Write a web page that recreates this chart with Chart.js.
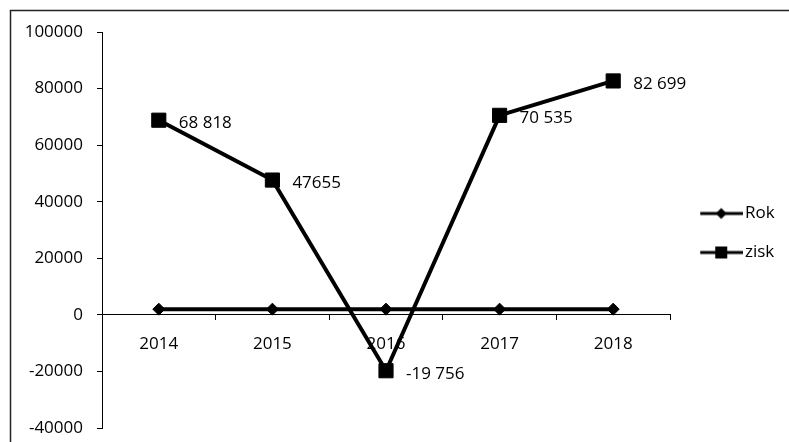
<!DOCTYPE html>
<html>
<head>
<meta charset="utf-8">
<script src="https://cdn.jsdelivr.net/npm/chart.js"></script>
<style>
  html, body { margin: 0; padding: 0; background: #fff; }
  #wrap { width: 789px; height: 442px; }
</style>
</head>
<body>
<div id="wrap"><canvas id="graf" width="789" height="442"></canvas></div>
<script>
// data
const roky = ['2014', '2015', '2016', '2017', '2018'];
const rokValues = [2014, 2015, 2016, 2017, 2018];
const ziskValues = [68818, 47655, -19756, 70535, 82699];
const ziskLabels = ['68 818', '47655', '-19 756', '70 535', '82 699'];
const yTicks = [-40000, -20000, 0, 20000, 40000, 60000, 80000, 100000];

const FONT = { family: '"Open Sans", "Noto Sans", sans-serif', size: 17 };
const INK = '#000';

// little legend sample: a line with the marker in the middle (like Excel)
function makeSample(shape) {
    const c = document.createElement('canvas');
    c.width = 58;
    c.height = 16;
    const g = c.getContext('2d');
    g.fillStyle = INK;
    g.fillRect(15, 6.5, 43, 3);
    if (shape === 'rect') {
        g.fillRect(30, 2, 12, 12);
    } else {
        g.beginPath();
        g.moveTo(36, 2.5);
        g.lineTo(41.5, 8);
        g.lineTo(36, 13.5);
        g.lineTo(30.5, 8);
        g.closePath();
        g.fill();
    }
    return c;
}
const samples = [makeSample('diamond'), makeSample('rect')];

// top + left edge of the scanned frame
const framePlugin = {
    id: 'frame',
    beforeDraw(chart) {
        const ctx = chart.ctx;
        ctx.save();
        ctx.strokeStyle = '#222';
        ctx.lineWidth = 1.5;
        ctx.strokeRect(10.5, 10.5, 900, 600);
        ctx.restore();
    }
};

// fixed width for the legend on the right, nudged a bit lower
const legendWidthPlugin = {
    id: 'legendWidth',
    beforeLayout(chart) {
        const legend = chart.legend;
        if (legend && !legend._patched) {
            const fit = legend.fit;
            legend.fit = function () {
                fit.call(this);
                this.width = 119;
            };
            legend._patched = true;
        }
    },
    afterLayout(chart) {
        if (chart.legend) {
            chart.legend.top += 3;
            chart.legend.bottom += 3;
        }
    }
};

// value labels to the right of the zisk points
const valueLabels = {
    id: 'valueLabels',
    afterDatasetsDraw(chart) {
        const meta = chart.getDatasetMeta(1);
        const ctx = chart.ctx;
        ctx.save();
        ctx.font = FONT.size + 'px ' + FONT.family;
        ctx.fillStyle = INK;
        ctx.textAlign = 'left';
        ctx.textBaseline = 'middle';
        meta.data.forEach((pt, i) => {
            ctx.fillText(ziskLabels[i], pt.x + 20, pt.y + 3);
        });
        ctx.restore();
    }
};

new Chart(document.getElementById('graf'), {
    type: 'line',
    data: {
        labels: roky,
        datasets: [{
            label: 'Rok',
            data: rokValues,
            borderColor: INK,
            backgroundColor: INK,
            borderWidth: 4,
            pointStyle: 'rectRot',
            pointRadius: 6,
            pointBorderWidth: 1,
            tension: 0
        }, {
            label: 'zisk',
            data: ziskValues,
            borderColor: INK,
            backgroundColor: INK,
            borderWidth: 4,
            pointStyle: 'rect',
            pointRadius: 10,
            pointBorderWidth: 1,
            tension: 0
        }]
    },
    options: {
        responsive: false,
        animation: false,
        layout: { padding: { left: 0, right: 0, top: 32, bottom: 14 } },
        plugins: {
            tooltip: { enabled: false },
            legend: {
                position: 'right',
                align: 'center',
                labels: {
                    usePointStyle: true,
                    pointStyleWidth: 44.5,
                    padding: 22,
                    color: INK,
                    font: FONT,
                    generateLabels(chart) {
                        const items = Chart.defaults.plugins.legend.labels.generateLabels(chart);
                        items.forEach((it, i) => { it.pointStyle = samples[i]; });
                        return items;
                    }
                }
            }
        },
        scales: {
            x: {
                type: 'category',
                position: { y: 0 },
                offset: true,
                grid: { display: true, drawOnChartArea: false, offset: true, tickLength: 5, color: INK },
                border: { display: true, color: INK, width: 1 },
                ticks: { color: INK, font: FONT, padding: 14, maxRotation: 0 }
            },
            y: {
                min: yTicks[0],
                max: yTicks[yTicks.length - 1],
                afterFit(scale) {
                    scale.width = 102;
                    scale.paddingTop = 10;
                    scale.paddingBottom = 10;
                },
                grid: { display: true, drawOnChartArea: false, tickLength: 5, color: INK },
                border: { display: true, color: INK, width: 1 },
                ticks: {
                    stepSize: yTicks[1] - yTicks[0],
                    color: INK,
                    font: FONT,
                    padding: 14,
                    callback: v => String(v)
                }
            }
        }
    },
    plugins: [framePlugin, legendWidthPlugin, valueLabels]
});
</script>
</body>
</html>
